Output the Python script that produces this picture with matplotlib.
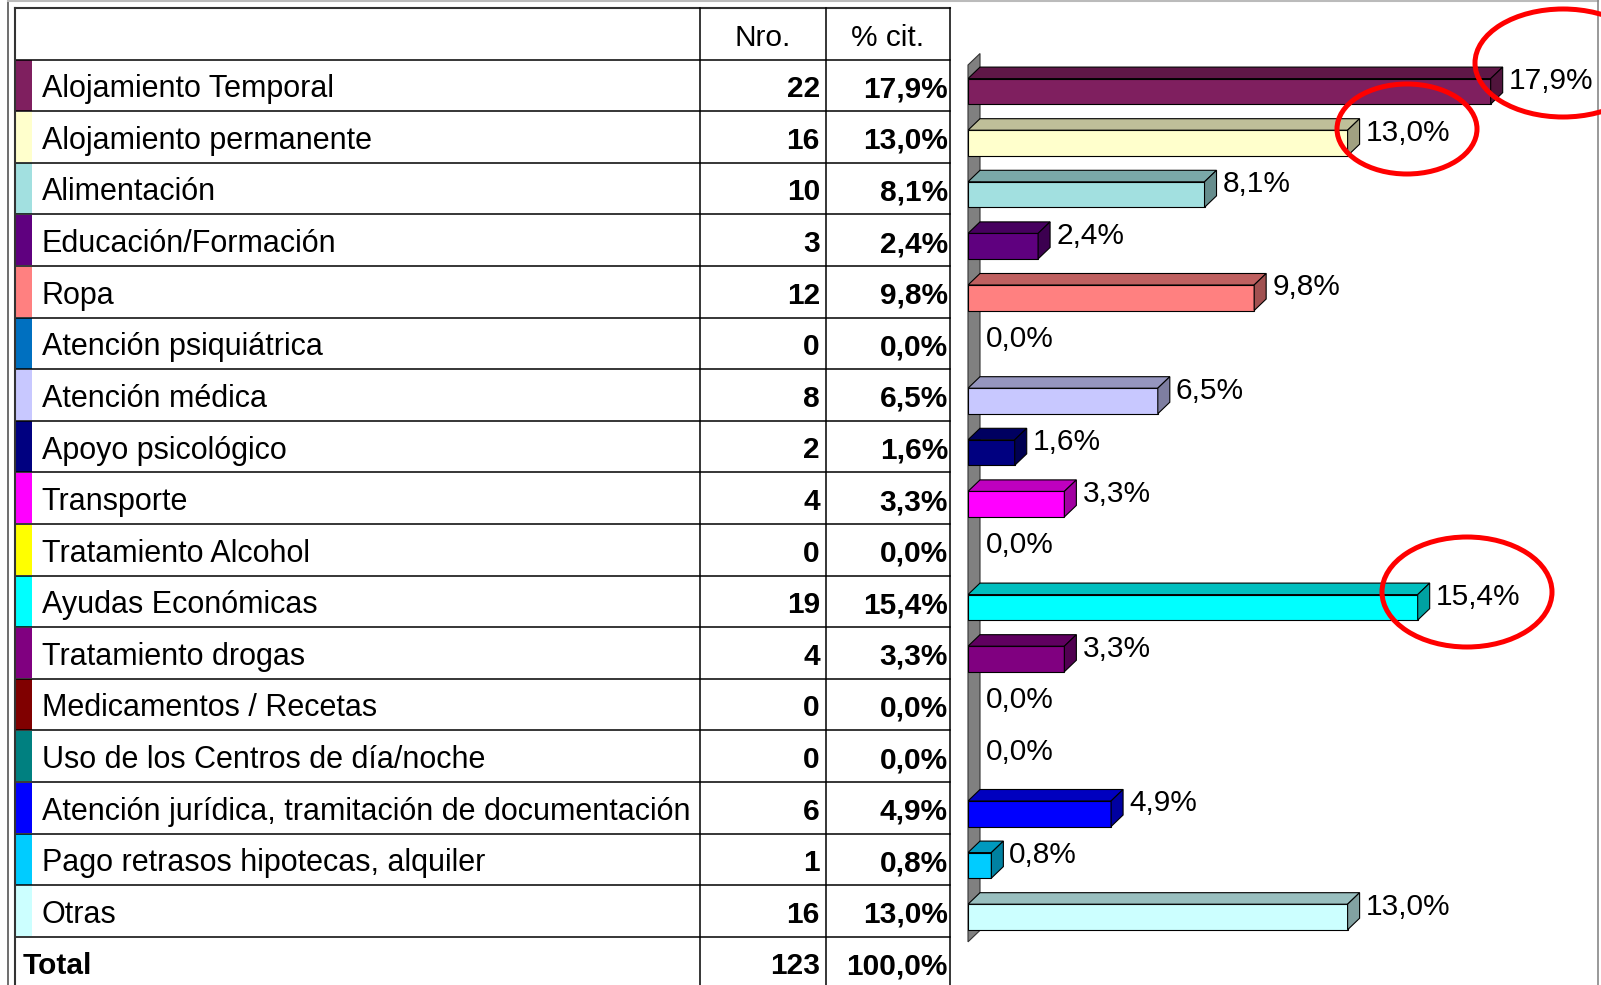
import matplotlib
matplotlib.use('Agg')
import matplotlib.pyplot as plt
from matplotlib.patches import Polygon, Rectangle, Ellipse
from matplotlib.colors import to_rgb

categories = ['Alojamiento Temporal', 'Alojamiento permanente', 'Alimentación',
              'Educación/Formación', 'Ropa', 'Atención psiquiátrica', 'Atención médica',
              'Apoyo psicológico', 'Transporte', 'Tratamiento Alcohol', 'Ayudas Económicas',
              'Tratamiento drogas', 'Medicamentos / Recetas', 'Uso de los Centros de día/noche',
              'Atención jurídica, tramitación de documentación',
              'Pago retrasos hipotecas, alquiler', 'Otras']
counts = [22, 16, 10, 3, 12, 0, 8, 2, 4, 0, 19, 4, 0, 0, 6, 1, 16]
percents = [17.9, 13.0, 8.1, 2.4, 9.8, 0.0, 6.5, 1.6, 3.3, 0.0, 15.4, 3.3, 0.0, 0.0, 4.9, 0.8, 13.0]
colors = ['#7F1F5F', '#FFFFCC', '#A2E0E0', '#5F007F', '#FF8080', '#0070C0', '#C8C8FF',
          '#000080', '#FF00FF', '#FFFF00', '#00FFFF', '#800080', '#800000', '#008080',
          '#0000FF', '#00CCFF', '#CCFFFF']
total_count = 123
total_pct = 100.0
headers = ['Nro.', '% cit.']


def fmt(v):
    return f'{v:.1f}'.replace('.', ',') + '%'


def shade(c, f):
    r, g, b = to_rgb(c)
    return (r * f, g * f, b * f)


plt.rcParams['font.family'] = ['Liberation Sans', 'DejaVu Sans']
fs_cat = 22
fs = 21.5

W, H = 1601, 985
fig = plt.figure(figsize=(W / 100, H / 100), dpi=100)
fig.patch.set_facecolor('white')

# layout (pixels)
n = len(categories)
row_top, row_h = 59.5, 51.6
tab_top = 7.7
x_left, x_sw, x_c1, x_c2, x_right = 14.7, 31.7, 700, 826, 950
bar_left = 968
px_per_pct = 29.2

# ---- 3D bar chart ----
bx = fig.add_axes([bar_left / W, 1 - (row_top + n * row_h) / H,
                   (W - bar_left) / W, n * row_h / H])
bx.set_xlim(0, (W - bar_left) / px_per_pct)
bx.set_ylim(n, 0)
bx.axis('off')

ddx = 12 / px_per_pct
ddy = 11.5 / row_h

wall_top, wall_bot = 0.107, 17.1
bx.add_patch(Polygon([(0, wall_bot), (ddx, wall_bot - ddy), (ddx, wall_top - ddy), (0, wall_top)],
                     closed=True, fc='#808080', ec='#333333', lw=0.8, clip_on=False))

f0, f1 = 0.37, 0.865
for i, (v, c) in enumerate(zip(percents, colors)):
    y0, y1 = i + f0, i + f1
    if v > 0:
        bx.barh(i + (f0 + f1) / 2, v, height=f1 - f0, left=0, color=c,
                edgecolor='black', linewidth=0.8, zorder=3)
        bx.add_patch(Polygon([(0, y0), (ddx, y0 - ddy), (v + ddx, y0 - ddy), (v, y0)],
                             closed=True, fc=shade(c, 0.75), ec='black', lw=0.8, zorder=3))
        bx.add_patch(Polygon([(v, y0), (v + ddx, y0 - ddy), (v + ddx, y1 - ddy), (v, y1)],
                             closed=True, fc=shade(c, 0.63), ec='black', lw=0.8, zorder=3))
    bx.annotate(fmt(v), xy=(v + ddx, y0), xytext=(6 * 0.72, -2.5 * 0.72), textcoords='offset points',
                ha='left', va='center', fontsize=fs, zorder=4)

# ---- table (pixel coordinates overlay) ----
ax = fig.add_axes([0, 0, 1, 1])
ax.set_xlim(0, W)
ax.set_ylim(H, 0)
ax.axis('off')
ax.patch.set_visible(False)

# outer frame
ax.plot([8, 8], [0, H], color='#555555', lw=1.2)
ax.plot([8, 1598], [1, 1], color='#bbbbbb', lw=1.5)
ax.plot([1598, 1598], [0, H], color='#888888', lw=1.2)

lw = 1.1
for k in range(n + 1):
    y = row_top + k * row_h
    ax.plot([x_left, x_right], [y, y], color='black', lw=lw)
ax.plot([x_left, x_right], [tab_top, tab_top], color='#333333', lw=1.5)
for x in (x_left, x_c1, x_c2, x_right):
    ax.plot([x, x], [tab_top, H], color='black' if x != x_left else '#333333',
            lw=lw if x != x_left else 1.5)

ax.text((x_c1 + x_c2) / 2, 46.5, headers[0], ha='center', va='baseline', fontsize=fs)
ax.text((x_c2 + x_right) / 2, 46.5, headers[1], ha='center', va='baseline', fontsize=fs)

for i, (cat, cnt, p, c) in enumerate(zip(categories, counts, percents, colors)):
    y = row_top + i * row_h
    ax.add_patch(Rectangle((x_left + 0.6, y + 0.6), x_sw - x_left - 0.6, row_h - 1.2,
                           fc=c, ec='none'))
    base = y + 37.8
    ax.text(41.5, base, cat, ha='left', va='baseline', fontsize=fs_cat)
    ax.text(x_c2 - 6, base, str(cnt), ha='right', va='baseline', fontsize=fs, fontweight='bold')
    ax.text(x_right - 2, base, fmt(p), ha='right', va='baseline', fontsize=fs, fontweight='bold')

base = row_top + n * row_h + 37.8
ax.text(22.5, base, 'Total', ha='left', va='baseline', fontsize=fs, fontweight='bold')
ax.text(x_c2 - 6, base, str(total_count), ha='right', va='baseline', fontsize=fs, fontweight='bold')
ax.text(x_right - 2, base, fmt(total_pct), ha='right', va='baseline', fontsize=fs, fontweight='bold')

# red highlight circles
for (cx, cy, w, h) in [(1563, 63, 176, 108), (1407, 129, 140, 90), (1467, 592, 170, 110)]:
    ax.add_patch(Ellipse((cx, cy), w, h, fc='none', ec='#FF0000', lw=3.6, zorder=5))

fig.savefig('out.png', dpi=100, facecolor='white')
